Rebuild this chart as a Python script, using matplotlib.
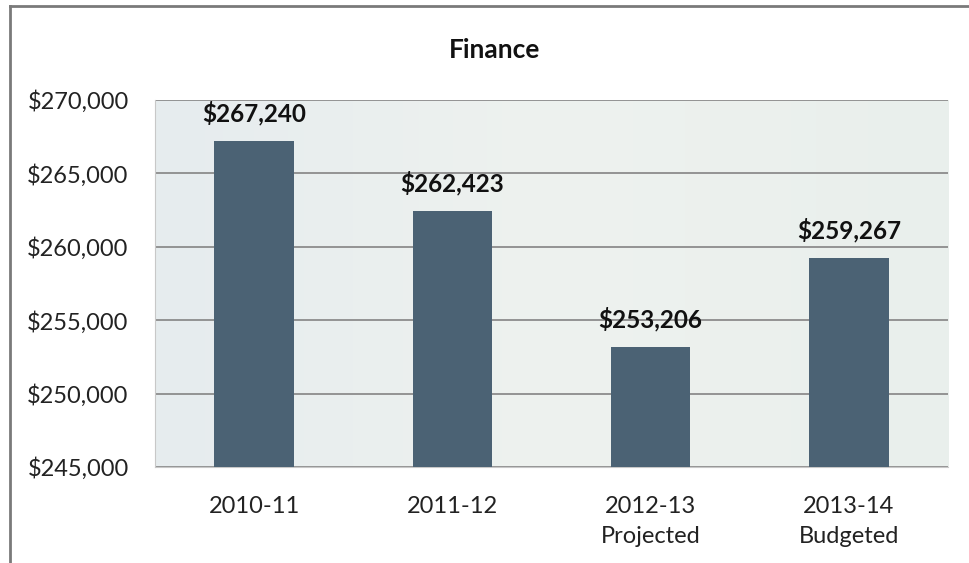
import numpy as np
import matplotlib
matplotlib.use("Agg")
import matplotlib.pyplot as plt
from matplotlib.lines import Line2D
from matplotlib.ticker import FuncFormatter

plt.rcParams["font.family"] = ["Lato", "DejaVu Sans"]

# Finance spending by fiscal year
categories = ["2010-11", "2011-12", "2012-13\nProjected", "2013-14\nBudgeted"]
amounts = [267240, 262423, 253206, 259267]
y_ticks = [245000, 250000, 255000, 260000, 265000, 270000]

BAR = "#4b6274"
GRID = "#8c8c8c"
TEXT = "#222222"

fig = plt.figure(figsize=(9.69, 5.63), dpi=100)
fig.patch.set_facecolor("white")

# outer frame: top and left edges only
fig.add_artist(Line2D([10 / 969, 1.0], [1 - 6 / 563] * 2, transform=fig.transFigure,
                      color="#7a7a7a", lw=2))
fig.add_artist(Line2D([10 / 969] * 2, [0.0, 1 - 6 / 563], transform=fig.transFigure,
                      color="#7a7a7a", lw=2))

ax = fig.add_axes([155 / 969, 96 / 563, 793 / 969, 367 / 563])

# soft background wash of the plot area
grad = np.linspace(0, 1, 256)[None, :]
ax.imshow(grad, extent=[-0.5, 3.5, y_ticks[0], y_ticks[-1]], aspect="auto",
          cmap=matplotlib.colors.LinearSegmentedColormap.from_list(
              "wash", ["#e6ecee", "#eef2ef", "#e9efec"]), zorder=0)

x = np.arange(len(categories))
ax.bar(x, amounts, width=0.4, bottom=0, color=BAR, zorder=3)

ax.set_xlim(-0.5, len(categories) - 0.5)
ax.set_ylim(y_ticks[0], y_ticks[-1])
ax.set_yticks(y_ticks)
ax.yaxis.set_major_formatter(FuncFormatter(lambda v, _: f"${v:,.0f}"))
ax.set_xticks(x)
ax.set_xticklabels(categories, linespacing=1.5)
ax.tick_params(length=0, labelsize=17, colors=TEXT)
ax.tick_params(axis="y", pad=19)
ax.tick_params(axis="x", pad=21)
ax.grid(axis="y", color=GRID, lw=1.3, zorder=1)

for s in ["top", "right"]:
    ax.spines[s].set_visible(False)
ax.spines["left"].set_color("#c8c8c8")
ax.spines["bottom"].set_color("#c8c8c8")

for xi, v in zip(x, amounts):
    ax.annotate(f"${v:,}", (xi, v), xytext=(0, 20), textcoords="offset points",
                ha="center", va="center", fontsize=17.5, fontweight="bold", color="#111111")

fig.text(495 / 969, 1 - 50 / 563, "Finance", ha="center", va="center",
         fontsize=19, fontweight="bold", color="#111111")

fig.savefig("out.png", dpi=100)
